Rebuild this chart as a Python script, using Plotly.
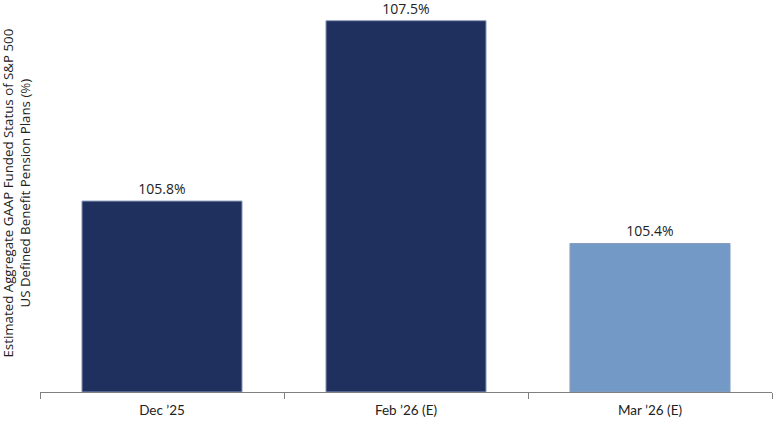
import plotly.graph_objects as go

categories = ["Dec \u201925", "Feb \u201926 (E)", "Mar \u201926 (E)"]
funded_status = [105.8, 107.5, 105.4]
labels = ["105.8%", "107.5%", "105.4%"]
y_floor = 104

bar_colours = ["#1F2F5E", "#1F2F5E", "#7399C6"]

fig = go.Figure(go.Bar(
    x=categories,
    y=[v - y_floor for v in funded_status],
    base=y_floor,
    text=labels,
    textposition="outside",
    textfont=dict(family="Open Sans", size=14, color="#222222"),
    cliponaxis=False,
    marker=dict(color=bar_colours, line=dict(color="#8E9CBC", width=1)),
    hoverinfo="skip",
))

fig.update_layout(
    width=773, height=422,
    margin=dict(l=40, r=1, t=0, b=30),
    plot_bgcolor="white", paper_bgcolor="white",
    bargap=0.344,
    showlegend=False,
    font=dict(family="Lato", size=13, color="#222222"),
)
fig.update_xaxes(
    showline=True, linecolor="#808080", linewidth=1,
    ticks="outside", tickson="boundaries", ticklen=6, tickcolor="#808080",
    tickfont=dict(family="Lato", size=13.5, color="#222222"),
    ticklabelstandoff=6,
    showgrid=False,
)
fig.update_yaxes(range=[104, 107.695], visible=False)

# rotated y title, placed left of the plot area
fig.add_annotation(
    text="Estimated Aggregate GAAP Funded Status of S&P 500<br>US Defined Benefit Pension Plans (%)",
    xref="paper", yref="paper", x=-0.0318, y=0.508,
    xanchor="center", yanchor="middle",
    textangle=-90, showarrow=False,
    font=dict(family="Open Sans", size=13.3, color="#222222"),
)

fig.write_html("out.html", config={"displayModeBar": False},
               post_script="document.body.style.margin='0';")
